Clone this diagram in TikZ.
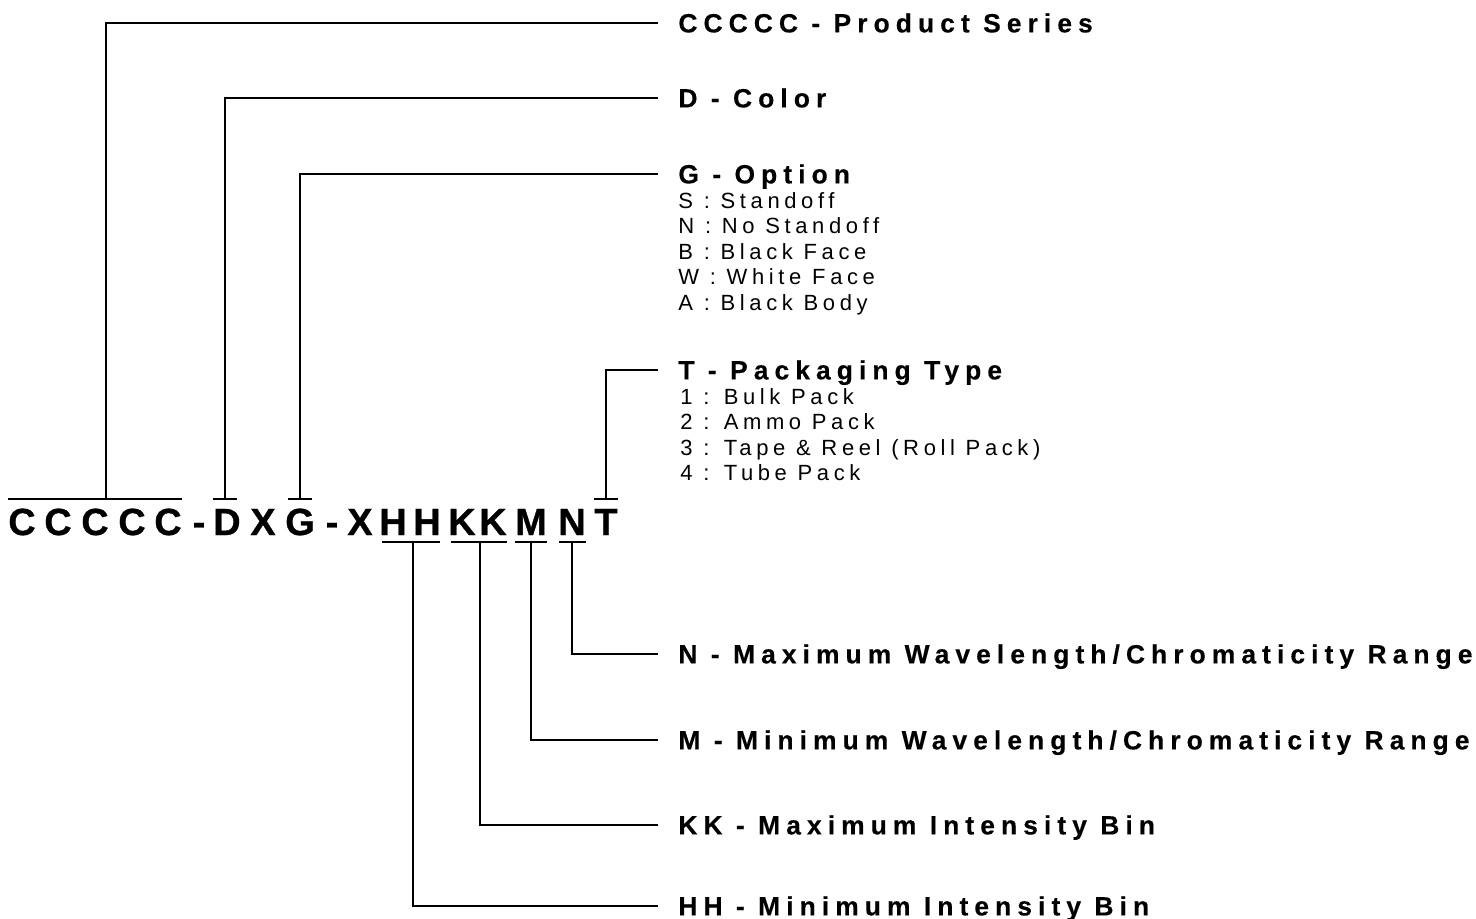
\documentclass[tikz,border=0pt]{standalone}
\usepackage{fontspec}
\setmainfont{Liberation Sans}
\newfontfamily\labfont[LetterSpace=23,BoldFeatures={FakeBold=0.3}]{Liberation Sans}
\newfontfamily\itemfont[LetterSpace=21]{Liberation Sans}
\newfontfamily\codefont[BoldFeatures={FakeBold=0.8}]{Liberation Sans}
\tikzset{
  codechar/.style={font=\codefont\fontsize{18.9}{20}\selectfont\bfseries, inner sep=0pt, text height=13.5pt, text depth=0pt},
  head/.style={anchor=west, font=\labfont\fontsize{13.2}{15}\selectfont\bfseries, inner xsep=10pt, inner ysep=0pt, text height=9.4pt, text depth=0pt},
  entry/.style={anchor=west, font=\itemfont\fontsize{11}{13}\selectfont, inner xsep=10pt, inner ysep=0pt, text height=7.9pt, text depth=0pt},
  lead/.style={line width=1.4pt}
}
\begin{document}
\begin{tikzpicture}[x=0.5pt,y=-0.5pt]
\useasboundingbox (0,0) rectangle (1476,919);
% Part number
\foreach \nm/\x/\ch in {cc1/22/C, cc2/58/C, cc3/95/C, cc4/132/C, cc5/168/C, dash1/199/-, colD/227/D, x1/263/X, optG/300/G, dash2/332/-, x2/360/X, hh1/393/H, hh2/427/H, kk1/462/K, kk2/493/K, minM/531/M, maxN/572/N, packT/606/T} {
    \node[codechar] (\nm) at (\x,521.5) {\ch};
}
% Bars over and under the letters
\foreach \nm/\l/\r/\s/\yy in {barC/8/182/106/499, barD/213/237/225/499, barG/288/312/300/499, barT/594/618/606/499, barH/382/440/413/542, barK/451/507/480/542, barM/515/547/531/542, barN/559/586/572/542} {
    \draw[lead] (\l,\yy) -- (\r,\yy);
    \coordinate (\nm) at (\s,\yy);
}
% Labels
\node[head] (lblC) at (658,23) {CCCCC - Product Series};
\node[head] (lblD) at (658,98) {D - Color};
\node[head] (lblG) at (658,174) {G - Option};
\node[head] (lblT) at (658,370) {T - Packaging Type};
\node[head] (lblN) at (658,654) {N - Maximum Wavelength/Chromaticity Range};
\node[head] (lblM) at (658,740) {M - Minimum Wavelength/Chromaticity Range};
\node[head] (lblK) at (658,825) {KK - Maximum Intensity Bin};
\node[head] (lblH) at (658,906) {HH - Minimum Intensity Bin};
% Option and packaging lists
\foreach \i/\yy/\txt in {1/201/S : Standoff, 2/226/N : No Standoff, 3/252/B : Black Face, 4/277/W : White Face, 5/303/A : Black Body} {
    \node[entry] (opt\i) at (658,\yy) {\txt};
}
\foreach \i/\yy/\txt in {1/397/1 : Bulk Pack, 2/422/2 : Ammo Pack, 3/448/3 : Tape \& Reel (Roll Pack), 4/473/4 : Tube Pack} {
    \node[entry] (pack\i) at (660,\yy) {\txt};
}
% Leaders
\draw[lead] (lblC.west) -| (barC);
\draw[lead] (lblD.west) -| (barD);
\draw[lead] (lblG.west) -| (barG);
\draw[lead] (lblT.west) -| (barT);
\draw[lead] (barN) |- (lblN.west);
\draw[lead] (barM) |- (lblM.west);
\draw[lead] (barK) |- (lblK.west);
\draw[lead] (barH) |- (lblH.west);
\end{tikzpicture}
\end{document}
